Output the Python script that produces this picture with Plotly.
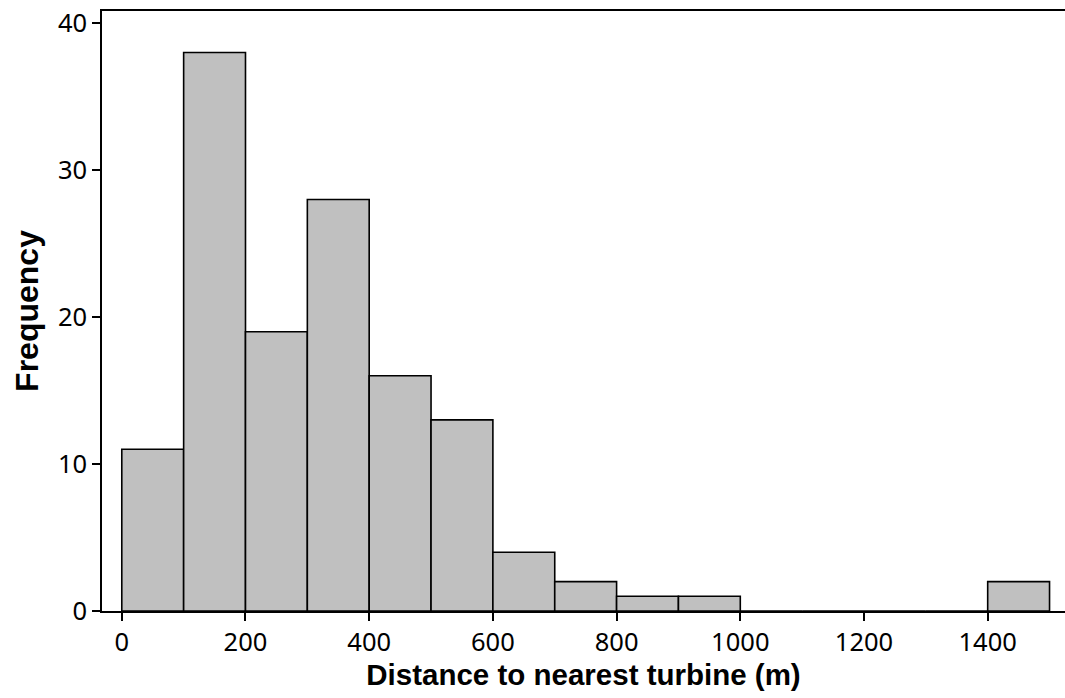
import plotly.graph_objects as go

bin_starts = [0, 100, 200, 300, 400, 500, 600, 700, 800, 900, 1000, 1100, 1200, 1300, 1400]
bin_width = 100
frequencies = [11, 38, 19, 28, 16, 13, 4, 2, 1, 1, 0, 0, 0, 0, 2]
x_ticks = [0, 200, 400, 600, 800, 1000, 1200, 1400]
y_ticks = [0, 10, 20, 30, 40]

centers = [s + bin_width / 2 for s in bin_starts]

fig = go.Figure()
fig.add_trace(go.Bar(
    x=centers, y=frequencies, width=bin_width,
    marker=dict(color="#c0c0c0", line=dict(color="black", width=1.6)),
))

tickfont = dict(family="Noto Sans", size=25.5, color="black")
fig.update_layout(
    width=1065, height=698,
    margin=dict(l=102, r=0, t=11, b=87),
    paper_bgcolor="white", plot_bgcolor="white",
    showlegend=False,
    xaxis=dict(range=[-32, 1525], tickvals=x_ticks, ticks="outside", ticklen=8,
               tickwidth=1.5, tickcolor="black", showline=True, linecolor="black",
               linewidth=1.5, mirror=True, showgrid=False, zeroline=False,
               tickfont=tickfont,
               title=dict(text="<b>Distance to nearest turbine (m)</b>",
                          font=dict(family="Liberation Sans", size=29.5, color="black"),
                          standoff=6)),
    yaxis=dict(range=[0, 40.82], tickvals=y_ticks, ticks="outside", ticklen=8,
               tickwidth=1.5, tickcolor="black", showline=True, linecolor="black",
               linewidth=1.5, showgrid=False, zeroline=False,
               tickfont=tickfont,
               title=dict(text="<b>Frequency</b>",
                          font=dict(family="Liberation Sans", size=32, color="black"),
                          standoff=10)),
)
fig.write_html("out.html")
